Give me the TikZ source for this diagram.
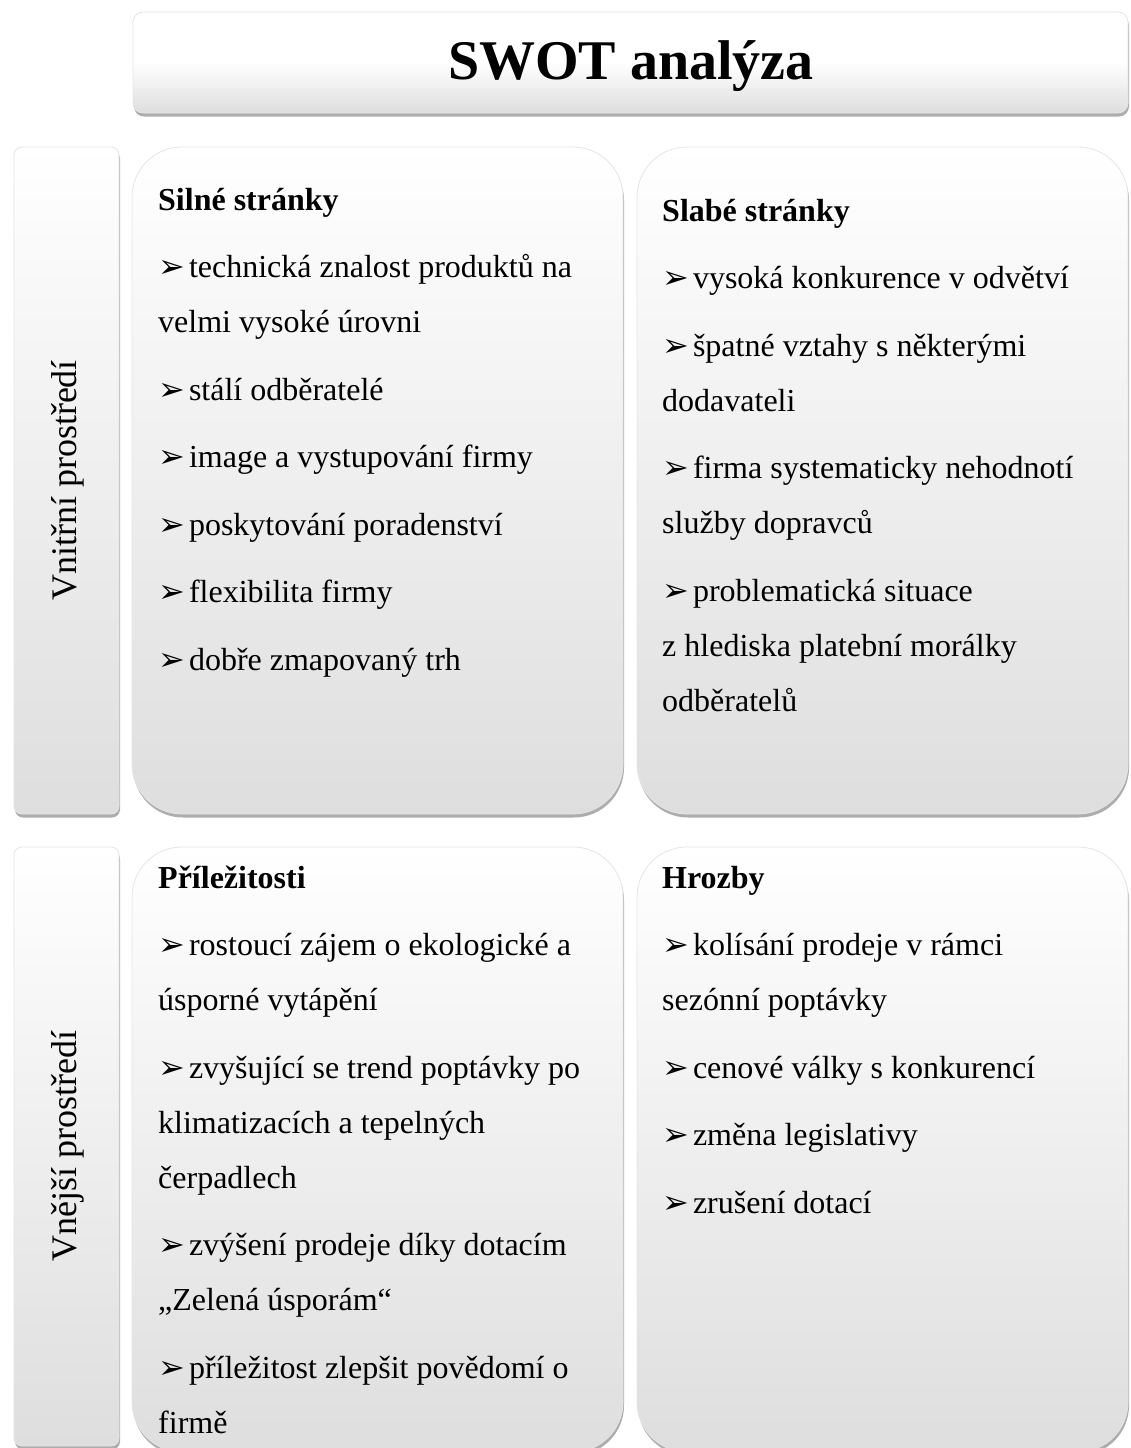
\documentclass[tikz,border=0pt]{standalone}
\usepackage{fontspec}
\setmainfont{Liberation Serif}
\newfontfamily\symfont{DejaVu Sans}
\usetikzlibrary{shadows}

\begin{document}
\begin{tikzpicture}[x=1pt, y=-1pt,
  panel/.style={draw=black!10, line width=0.8pt, top color=white, bottom color=black!13,
    drop shadow={shadow xshift=1pt, shadow yshift=-3.5pt, fill=black!80, opacity=0.4}},
  itemtext/.style={anchor=north west, inner sep=0pt, align=left, font=\fontsize{32}{55}\selectfont},
  sidetext/.style={rotate=90, inner sep=0pt, font=\fontsize{36}{43}\selectfont}]

  \newcommand\GAP{12.5pt}
  \newcommand\ARROW{{\symfont\fontsize{32}{32}\selectfont ➢}\hspace{4pt}}

  \useasboundingbox (0, 0) rectangle (1130, 1448);

  \draw[panel, rounded corners=10pt, middle color=white] (133, 12) rectangle (1128, 113);
  \draw[panel, rounded corners=8pt] (14, 147) rectangle (119, 814);
  \draw[panel, rounded corners=50pt] (132, 147) rectangle (623, 814);
  \draw[panel, rounded corners=50pt] (637, 147) rectangle (1128, 814);
  \draw[panel, rounded corners=8pt] (14, 847) rectangle (119, 1446);
  \draw[panel, rounded corners=50pt] (132, 847) rectangle (623, 1452);
  \draw[panel, rounded corners=50pt] (637, 847) rectangle (1128, 1452);

  \node[font=\fontsize{56}{60}\selectfont\bfseries] (title) at (631, 66) {SWOT analýza};

  \node[sidetext] (inner) at (68, 480.5) {Vnitřní prostředí};
  \node[sidetext] (outer) at (68, 1146) {Vnější prostředí};

  \node[itemtext] (strengths) at (158, 171.5) {\strut\textbf{Silné stránky}\\[\GAP]
    \ARROW technická znalost produktů na\\
    velmi vysoké úrovni\\[\GAP]
    \ARROW stálí odběratelé\\[\GAP]
    \ARROW image a vystupování firmy\\[\GAP]
    \ARROW poskytování poradenství\\[\GAP]
    \ARROW flexibilita firmy\\[\GAP]
    \ARROW dobře zmapovaný trh};

  \node[itemtext] (weaknesses) at (662, 182.5) {\strut\textbf{Slabé stránky}\\[\GAP]
    \ARROW vysoká konkurence v odvětví\\[\GAP]
    \ARROW špatné vztahy s některými\\
    dodavateli\\[\GAP]
    \ARROW firma systematicky nehodnotí\\
    služby dopravců\\[\GAP]
    \ARROW problematická situace\\
    z hlediska platební morálky\\
    odběratelů};

  \node[itemtext] (opportunities) at (158, 849.5) {\strut\textbf{Příležitosti}\\[\GAP]
    \ARROW rostoucí zájem o ekologické a\\
    úsporné vytápění\\[\GAP]
    \ARROW zvyšující se trend poptávky po\\
    klimatizacích a tepelných\\
    čerpadlech\\[\GAP]
    \ARROW zvýšení prodeje díky dotacím\\
    „Zelená úsporám“\\[\GAP]
    \ARROW příležitost zlepšit povědomí o\\
    firmě};

  \node[itemtext] (threats) at (662, 849.5) {\strut\textbf{Hrozby}\\[\GAP]
    \ARROW kolísání prodeje v rámci\\
    sezónní poptávky\\[\GAP]
    \ARROW cenové války s konkurencí\\[\GAP]
    \ARROW změna legislativy\\[\GAP]
    \ARROW zrušení dotací};

\end{tikzpicture}
\end{document}
